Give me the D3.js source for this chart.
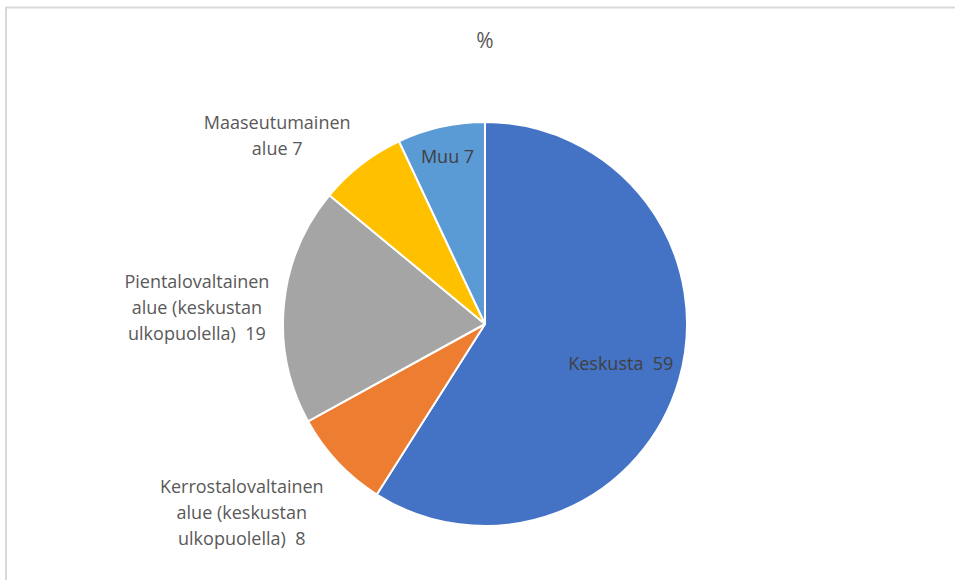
<!DOCTYPE html>
<html>
<head>
<meta charset="utf-8">
<script src="https://cdn.jsdelivr.net/npm/d3@7"></script>
<style>
  body { margin: 0; background: #fff; }
  text { font-family: 'Open Sans', 'Noto Sans', sans-serif; white-space: pre; }
</style>
</head>
<body>
<div id="chart"></div>
<script>
// data
const categories = [
  'Keskusta',
  'Kerrostalovaltainen alue (keskustan ulkopuolella)',
  'Pientalovaltainen alue (keskustan ulkopuolella)',
  'Maaseutumainen alue',
  'Muu'
];
const values = [59, 8, 19, 7, 7];
const labelLines = [
  ['Keskusta  59'],
  ['Kerrostalovaltainen', 'alue (keskustan', 'ulkopuolella)  8'],
  ['Pientalovaltainen', 'alue (keskustan', 'ulkopuolella)  19'],
  ['Maaseutumainen', 'alue 7'],
  ['Muu 7']
];
const colors = ['#4472C4', '#ED7D31', '#A5A5A5', '#FFC000', '#5B9BD5'];

const width = 955, height = 580;
const cx = 485, cy = 324, R = 202;

// where each label sits: inside at a radius fraction, or outside with a nudge
const labelPlace = [
  { inside: true, r: 0.70 },
  { inside: false, dx: -96, dy: 50 },
  { inside: false, dx: -87, dy: 3 },
  { inside: false, dx: -84, dy: -29 },
  { inside: true, r: 0.85 }
];

const svg = d3.select('#chart').append('svg')
  .attr('width', width)
  .attr('height', height);

// chart frame (only top and left visible)
svg.append('path')
  .attr('d', 'M6,' + height + ' V7.5 H' + width)
  .attr('fill', 'none')
  .attr('stroke', '#d9d9d9')
  .attr('stroke-width', 2);

svg.append('text')
  .attr('x', cx)
  .attr('y', 48)
  .attr('text-anchor', 'middle')
  .attr('font-size', 21)
  .attr('fill', '#595959')
  .text('%');

const data = categories.map((c, i) => ({ name: c, value: values[i], i: i }));

const pie = d3.pie().sort(null).value(d => d.value);
const arcs = pie(data);
const arc = d3.arc().innerRadius(0).outerRadius(R);

const g = svg.append('g').attr('transform', 'translate(' + cx + ',' + cy + ')');

g.selectAll('path.slice')
  .data(arcs)
  .join('path')
  .attr('class', 'slice')
  .attr('d', arc)
  .attr('fill', d => colors[d.data.i])
  .attr('stroke', '#fff')
  .attr('stroke-width', 2)
  .attr('stroke-linejoin', 'round');

const lineH = 26;
g.selectAll('text.lbl')
  .data(arcs)
  .join('text')
  .attr('class', 'lbl')
  .attr('text-anchor', 'middle')
  .attr('font-size', 18)
  .attr('fill', d => labelPlace[d.data.i].inside ? '#404040' : '#595959')
  .each(function(d) {
    const p = labelPlace[d.data.i];
    const a = (d.startAngle + d.endAngle) / 2;
    let x, y;
    if (p.inside) {
      x = Math.sin(a) * R * p.r;
      y = -Math.cos(a) * R * p.r;
    } else {
      x = Math.sin(a) * R + p.dx;
      y = -Math.cos(a) * R + p.dy;
    }
    const lines = labelLines[d.data.i];
    const t = d3.select(this);
    const y0 = y - (lines.length - 1) * lineH / 2;
    lines.forEach((ln, k) => {
      t.append('tspan')
        .attr('x', x)
        .attr('y', y0 + k * lineH)
        .attr('dy', '0.35em')
        .text(ln);
    });
  });
</script>
</body>
</html>
